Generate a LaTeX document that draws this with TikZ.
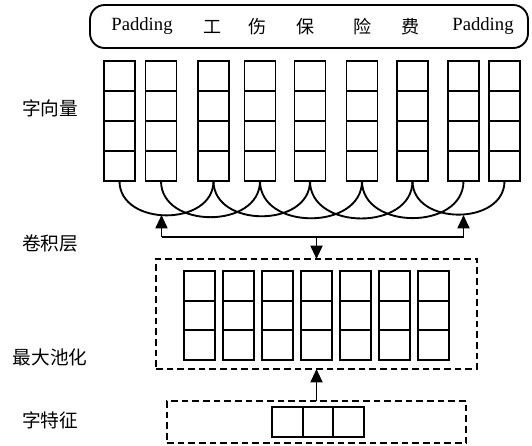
\documentclass[tikz,border=0pt]{standalone}
\usepackage{fontspec}
\setmainfont{Liberation Serif}
\newfontfamily\cjk{Noto Sans CJK SC}
\usetikzlibrary{calc,arrows.meta}
\tikzset{
  ln/.style={line width=1.4pt},
  vcol/.style={draw, ln, minimum width=23.25pt, minimum height=#1, inner sep=0pt, outer sep=0pt},
  four/.style={vcol=90pt},
  three/.style={vcol=66.75pt},
  hthree/.style={draw, ln, minimum width=69pt, minimum height=22.5pt, inner sep=0pt, outer sep=0pt},
  dbox/.style={draw, ln, dash pattern=on 5pt off 3pt, inner sep=0pt, outer sep=0pt},
  arc/.style={ln, out=-90, in=-90, looseness=1.25},
  arr/.style={ln, -{Triangle[width=9pt,length=10pt]}},
  lbl/.style={font=\cjk\fontsize{14pt}{16pt}\selectfont, inner sep=0pt},
  tok/.style={font=\fontsize{14pt}{16pt}\selectfont, inner sep=0pt},
  ctok/.style={font=\cjk\fontsize{13.5pt}{16pt}\selectfont, inner sep=0pt},
}
\begin{document}
\begin{tikzpicture}[x=0.75pt,y=-0.75pt]
\useasboundingbox (0,0) rectangle (532,446);
% top sentence box
\node[draw, ln, rounded corners=11pt, minimum width=328.5pt, minimum height=32.25pt, inner sep=0pt] (sent) at (309,26.5) {};
\node[tok] (t0) at (142,26) {Padding};
\node[ctok] (t1) at (212,27) {工};
\node[ctok] (t2) at (257,27) {伤};
\node[ctok] (t3) at (305,27) {保};
\node[ctok] (t4) at (362,27) {险};
\node[ctok] (t5) at (410,27) {费};
\node[tok] (t6) at (483,26) {Padding};
% word vector columns
\node[four] (c1) at (119.5,121) {};
\node[four] (c2) at (161,121) {};
\node[four] (c3) at (213.5,121) {};
\node[four] (c4) at (260,121) {};
\node[four] (c5) at (310,121) {};
\node[four] (c6) at (362,121) {};
\node[four] (c7) at (412.5,121) {};
\node[four] (c8) at (463.5,121) {};
\node[four] (c9) at (504.5,121) {};
\foreach \n in {c1,c2,c3,c4,c5,c6,c7,c8,c9}
  \foreach \k in {1,2,3}
    \draw[ln] ($(\n.south west)!\k/4!(\n.north west)$) -- ($(\n.south east)!\k/4!(\n.north east)$);
% convolution arcs
\draw[arc] (c1.south) to (c3.south);
\draw[arc] (c2.south) to (c4.south);
\draw[arc] (c3.south) to (c5.south);
\draw[arc] (c4.south) to (c6.south);
\draw[arc] (c5.south) to (c7.south);
\draw[arc] (c6.south) to (c8.south);
\draw[arc] (c7.south) to (c9.south);
% max pooling box
\node[dbox, minimum width=240.75pt, minimum height=82.5pt] (pool) at (316.5,314) {};
\node[three] (p1) at (199.5,315.5) {};
\node[three] (p2) at (238.5,315.5) {};
\node[three] (p3) at (277.5,315.5) {};
\node[three] (p4) at (316.5,315.5) {};
\node[three] (p5) at (355.5,315.5) {};
\node[three] (p6) at (394.5,315.5) {};
\node[three] (p7) at (433.5,315.5) {};
\foreach \n in {p1,p2,p3,p4,p5,p6,p7}
  \foreach \k in {1,2}
    \draw[ln] ($(\n.south west)!\k/3!(\n.north west)$) -- ($(\n.south east)!\k/3!(\n.north east)$);
% feature box
\node[dbox, minimum width=224.25pt, minimum height=31.5pt] (feat) at (316.5,422) {};
\node[hthree] (f) at (318,422) {};
\foreach \k in {1,2}
  \draw[ln] ($(f.south west)!\k/3!(f.south east)$) -- ($(f.north west)!\k/3!(f.north east)$);
% connectors
\coordinate (hl) at (161.5,237);
\coordinate (hr) at (463.5,237);
\draw[ln] (hl) -- (hr);
\draw[arr] (hl) -- ++(0,-22);
\draw[arr] (hr) -- ++(0,-22);
\draw[arr] (pool.north |- hl) -- (pool.north);
\draw[arr] (feat.north) -- (pool.south);
% labels
\node[lbl] (l1) at (50,108) {字向量};
\node[lbl] (l2) at (50,243) {卷积层};
\node[lbl] (l3) at (50,357) {最大池化};
\node[lbl] (l4) at (50,420) {字特征};
\end{tikzpicture}
\end{document}
